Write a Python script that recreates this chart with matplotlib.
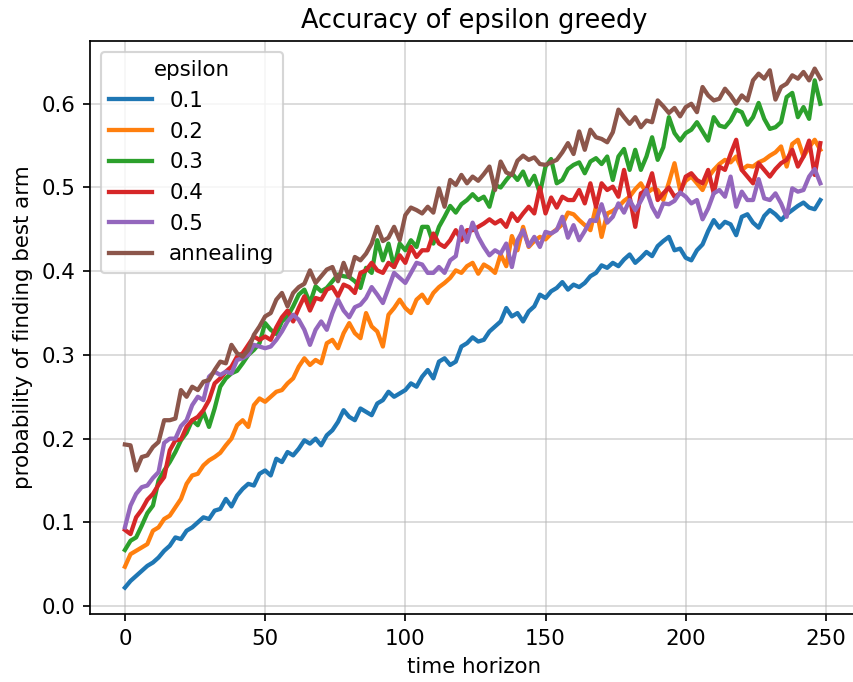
import numpy as np
from matplotlib import pyplot as plt


# time steps (every second step of the horizon)
t = np.arange(0, 250, 2)

eps_01 = [.022, .030, .036, .042, .048, .052, .058, .066, .072, .082,
          .080, .090, .094, .100, .106, .104, .114, .116, .128, .119,
          .132, .140, .146, .144, .158, .162, .156, .176, .172, .184,
          .180, .188, .198, .194, .200, .192, .204, .210, .220, .234,
          .226, .222, .236, .232, .228, .242, .246, .256, .250, .254,
          .258, .266, .262, .274, .282, .272, .292, .296, .288, .292,
          .310, .314, .321, .316, .318, .328, .334, .340, .356, .346,
          .350, .340, .352, .358, .372, .368, .376, .380, .387, .378,
          .384, .381, .386, .394, .398, .407, .404, .410, .406, .414,
          .420, .410, .416, .423, .418, .430, .436, .441, .425, .427,
          .416, .413, .425, .432, .448, .461, .452, .459, .456, .443,
          .465, .468, .458, .452, .466, .473, .468, .461, .468, .473,
          .478, .482, .476, .474, .485]

eps_02 = [.047, .062, .066, .070, .074, .090, .094, .104, .108, .118,
          .128, .146, .156, .158, .168, .174, .178, .183, .192, .200,
          .216, .222, .214, .240, .248, .244, .250, .256, .258, .266,
          .272, .286, .296, .288, .294, .290, .314, .318, .308, .326,
          .338, .326, .320, .350, .334, .328, .310, .348, .356, .366,
          .356, .350, .366, .372, .362, .374, .381, .386, .392, .401,
          .398, .406, .410, .397, .408, .404, .398, .420, .406, .442,
          .425, .453, .429, .436, .441, .438, .445, .450, .456, .470,
          .468, .461, .455, .449, .477, .441, .469, .472, .477, .484,
          .489, .498, .505, .493, .498, .497, .485, .506, .529, .497,
          .508, .513, .505, .497, .512, .521, .528, .533, .530, .537,
          .521, .526, .525, .530, .533, .538, .542, .549, .525, .552,
          .557, .537, .548, .557, .545]

eps_03 = [.067, .078, .082, .096, .111, .120, .150, .162, .172, .184,
          .198, .207, .222, .216, .232, .214, .236, .262, .272, .278,
          .281, .290, .300, .306, .314, .338, .330, .325, .340, .346,
          .358, .372, .378, .362, .382, .376, .380, .388, .396, .394,
          .393, .388, .380, .404, .398, .437, .413, .433, .405, .433,
          .425, .437, .429, .453, .453, .433, .453, .465, .478, .470,
          .480, .485, .492, .485, .489, .477, .503, .500, .509, .517,
          .509, .519, .503, .514, .493, .525, .534, .505, .509, .522,
          .527, .530, .517, .531, .535, .528, .537, .509, .537, .546,
          .521, .545, .521, .537, .560, .533, .548, .584, .565, .556,
          .565, .569, .578, .567, .556, .584, .574, .572, .580, .593,
          .590, .575, .584, .601, .582, .570, .572, .578, .608, .613,
          .584, .596, .582, .628, .600]

eps_04 = [.091, .086, .106, .115, .127, .134, .145, .154, .186, .198,
          .199, .214, .222, .226, .234, .246, .266, .272, .280, .286,
          .298, .302, .312, .322, .318, .322, .318, .333, .345, .353,
          .340, .356, .370, .353, .368, .366, .378, .381, .370, .384,
          .381, .374, .398, .401, .410, .401, .398, .410, .405, .419,
          .410, .429, .417, .425, .425, .445, .433, .429, .437, .449,
          .437, .449, .449, .453, .457, .462, .457, .461, .453, .469,
          .460, .469, .477, .469, .500, .469, .488, .476, .489, .485,
          .485, .497, .481, .505, .477, .505, .497, .501, .489, .521,
          .489, .453, .493, .497, .517, .485, .493, .500, .489, .493,
          .513, .517, .509, .505, .521, .493, .525, .521, .540, .557,
          .521, .513, .505, .529, .521, .513, .522, .529, .533, .545,
          .525, .537, .556, .515, .553]

eps_05 = [.094, .120, .134, .142, .144, .153, .160, .195, .200, .200,
          .215, .222, .240, .250, .246, .274, .280, .276, .280, .278,
          .294, .296, .300, .312, .310, .308, .310, .318, .328, .340,
          .348, .342, .330, .312, .330, .340, .330, .350, .366, .353,
          .345, .357, .360, .368, .381, .372, .362, .380, .398, .392,
          .386, .398, .410, .408, .398, .398, .405, .398, .413, .418,
          .453, .435, .458, .441, .429, .419, .425, .421, .433, .405,
          .437, .449, .430, .441, .429, .447, .445, .449, .465, .440,
          .455, .437, .448, .461, .460, .480, .458, .465, .481, .470,
          .485, .473, .484, .497, .477, .465, .481, .480, .484, .494,
          .489, .481, .485, .462, .475, .493, .497, .489, .513, .477,
          .495, .485, .485, .510, .487, .485, .493, .481, .465, .499,
          .495, .497, .513, .522, .505]

annealing = [.193, .192, .162, .178, .180, .190, .196, .222, .222, .224,
             .258, .250, .262, .258, .268, .270, .282, .292, .290, .312,
             .302, .298, .306, .324, .334, .346, .350, .366, .374, .358,
             .374, .381, .385, .401, .386, .394, .402, .405, .388, .410,
             .393, .417, .413, .421, .433, .453, .436, .440, .453, .437,
             .467, .476, .473, .469, .477, .470, .499, .477, .509, .503,
             .515, .505, .513, .508, .516, .525, .497, .531, .518, .515,
             .532, .538, .533, .536, .528, .527, .530, .533, .542, .553,
             .540, .567, .545, .569, .560, .558, .554, .566, .593, .584,
             .576, .584, .572, .580, .578, .604, .597, .589, .595, .585,
             .596, .600, .590, .620, .610, .604, .606, .618, .610, .600,
             .610, .604, .628, .636, .630, .640, .605, .620, .624, .634,
             .630, .638, .628, .642, .630]

series = [eps_01, eps_02, eps_03, eps_04, eps_05, annealing]
labels = ['0.1', '0.2', '0.3', '0.4', '0.5', 'annealing']

dpi = 154
fig = plt.figure(figsize=(853 / dpi, 682 / dpi), dpi=dpi)
ax = fig.add_axes([0.1055, 0.1003, 0.9004, 0.8396])

for values, label in zip(series, labels):
    ax.plot(t, values, label=label, linewidth=2)

ax.set_xlim(-12.45, 261.45)
ax.set_ylim(-0.009, 0.675)
ax.grid(True, alpha=0.5)
ax.set_title('Accuracy of epsilon greedy')
ax.set_xlabel('time horizon')
ax.set_ylabel('probability of finding best arm')
ax.legend(title='epsilon', loc='upper left')

fig.savefig('out.png', dpi=dpi)
